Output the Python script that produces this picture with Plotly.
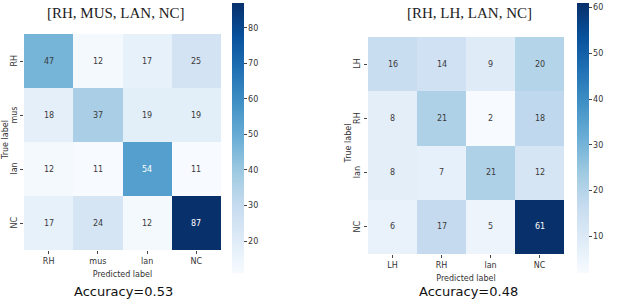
import plotly.graph_objects as go

# ---- data ----
left_title = "[RH, MUS, LAN, NC]"
left_labels = ["RH", "mus", "lan", "NC"]
left_matrix = [
    [47, 12, 17, 25],
    [18, 37, 19, 19],
    [12, 11, 54, 11],
    [17, 24, 12, 87],
]
left_acc = "Accuracy=0.53"

right_title = "[RH, LH, LAN, NC]"
right_labels = ["LH", "RH", "lan", "NC"]
right_matrix = [
    [16, 14, 9, 20],
    [8, 21, 2, 18],
    [8, 7, 21, 12],
    [6, 17, 5, 61],
]
right_acc = "Accuracy=0.48"

blues = [
    [0.0, "rgb(247,251,255)"], [0.125, "rgb(222,235,247)"], [0.25, "rgb(198,219,239)"],
    [0.375, "rgb(158,202,225)"], [0.5, "rgb(107,174,214)"], [0.625, "rgb(66,146,198)"],
    [0.75, "rgb(33,113,181)"], [0.875, "rgb(8,81,156)"], [1.0, "rgb(8,48,107)"],
]

W, H = 618, 299
def px_x(v): return v / W
def px_y(v): return 1 - v / H

fig = go.Figure()
tick_font = dict(family="DejaVu Sans", size=8, color="#333")

panels = [
    dict(labels=left_labels, z=left_matrix, title=left_title, acc=left_acc,
         xd=[24, 221], yd=[34, 250], cbx=232, xa="x", ya="y", ca="coloraxis",
         tcx=116, acx=123, ylx=5, ytx=19),
    dict(labels=right_labels, z=right_matrix, title=right_title, acc=right_acc,
         xd=[368, 564], yd=[37, 254], cbx=577, xa="x2", ya="y2", ca="coloraxis2",
         tcx=469, acx=468, ylx=348, ytx=363),
]

annotations = []
for i, p in enumerate(panels):
    flat = [v for row in p["z"] for v in row]
    zmin, zmax = min(flat), max(flat)
    fig.add_trace(go.Heatmap(
        z=p["z"], x=p["labels"], y=p["labels"], xaxis=p["xa"], yaxis=p["ya"],
        coloraxis=p["ca"], hoverinfo="skip"))
    for r, lab_r in enumerate(p["labels"]):
        for c, lab_c in enumerate(p["labels"]):
            v = p["z"][r][c]
            norm = (v - zmin) / (zmax - zmin)
            annotations.append(dict(
                x=lab_c, y=lab_r, xref=p["xa"], yref=p["ya"], text=str(v), showarrow=False,
                font=dict(family="DejaVu Sans", size=8,
                          color="white" if norm > 0.5 else "#3a3a3a")))
    # y tick labels (rotated), positioned by the y axis
    for lab_r in p["labels"]:
        annotations.append(dict(
            x=px_x(p["ytx"]), y=lab_r, xref="paper", yref=p["ya"], text=lab_r,
            showarrow=False, textangle=-90, font=tick_font,
            xanchor="right", yanchor="middle", borderpad=0))
    annotations.append(dict(x=px_x(p["tcx"]), y=px_y(13), xref="paper", yref="paper",
                            text=p["title"], showarrow=False,
                            font=dict(family="Liberation Serif", size=15, color="#222"),
                            xanchor="center", yanchor="middle"))
    annotations.append(dict(x=px_x(p["acx"]), y=px_y(291), xref="paper", yref="paper",
                            text=p["acc"], showarrow=False,
                            font=dict(family="DejaVu Sans", size=13, color="#111"),
                            xanchor="center", yanchor="middle"))
    annotations.append(dict(x=px_x(p["ylx"]), y=px_y((p["yd"][0] + p["yd"][1]) / 2 - 2),
                            xref="paper", yref="paper", text="True label", showarrow=False,
                            textangle=-90, font=tick_font,
                            xanchor="center", yanchor="middle"))
    sfx = "" if i == 0 else "2"
    fig.layout["coloraxis" + sfx] = dict(
        cmin=zmin, cmax=zmax, colorscale=blues,
        colorbar=dict(x=px_x(p["cbx"]), xanchor="left", xpad=0, ypad=0,
                      thickness=12, len=270 / H, lenmode="fraction",
                      y=px_y(138), yanchor="middle", outlinewidth=0,
                      ticks="outside", ticklen=3, tickcolor="#444",
                      tick0=0, dtick=10, tickfont=tick_font))
    fig.layout["xaxis" + sfx] = dict(
        domain=[px_x(p["xd"][0]), px_x(p["xd"][1])], anchor="y" + sfx,
        ticks="outside", ticklen=3, tickcolor="#444", tickfont=tick_font,
        showgrid=False, zeroline=False, showline=False,
        title=dict(text="Predicted label", font=tick_font, standoff=6))
    fig.layout["yaxis" + sfx] = dict(
        domain=[px_y(p["yd"][1]), px_y(p["yd"][0])], anchor="x" + sfx,
        autorange="reversed", ticks="outside", ticklen=3, tickcolor="#444",
        showticklabels=False, showgrid=False, zeroline=False, showline=False)

fig.update_layout(
    width=W, height=H, margin=dict(l=0, r=0, t=0, b=0),
    paper_bgcolor="white", plot_bgcolor="white",
    annotations=annotations, showlegend=False)

fig.write_html("out.html")
